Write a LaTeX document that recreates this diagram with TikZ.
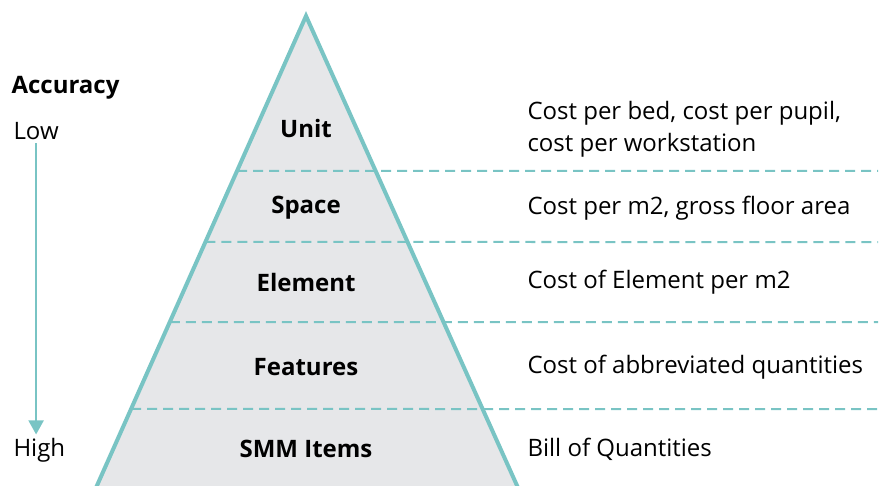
\documentclass[tikz,border=0pt]{standalone}
\usepackage{fontspec}
\setmainfont{Open Sans}
\usetikzlibrary{calc, arrows.meta}
\definecolor{teal}{HTML}{79C4C4}
\definecolor{pyrgrey}{HTML}{E6E7E9}
\tikzset{
    level/.style={font=\fontsize{24}{32}\selectfont\bfseries},
    cost/.style={anchor=west, font=\fontsize{24}{32}\selectfont, align=left},
    divider/.style={teal, line width=2pt, dash pattern=on 10pt off 6pt},
}
\begin{document}
\begin{tikzpicture}[x=1pt, y=-1pt]
        \useasboundingbox (0, 0) rectangle (882, 486);

        \coordinate (T) at (306, 16);
        \coordinate (L) at (95, 490);
        \coordinate (R) at (519, 490);

        \fill[pyrgrey] (T) -- (L) -- (R) -- cycle;

        % dashed dividers, from the left edge out to the right margin
        \foreach \y/\name in {171/a, 242/b, 322/c, 409/d} {
            \coordinate (\name) at ($(T)!{(\y-16)/474}!(L)$);
            \coordinate (\name e) at (878, \y);
            \draw[divider] (\name) -- (\name e);
        }

        \draw[teal, line width=4pt, line join=miter] (L) -- (T) -- (R);

        \node[level] (unit) at (306, 129) {Unit};
        \node[level] (space) at (306, 208) {Space};
        \node[level] (element) at (306, 282) {Element};
        \node[level] (features) at (306, 367) {Features};
        \node[level] (smm) at (306, 449) {SMM Items};

        \node[cost] (c1) at (524, 129) {Cost per bed, cost per pupil,\\cost per workstation};
        \node[cost] (c2) at (524, 208) {Cost per m2, gross floor area};
        \node[cost] (c3) at (524, 282) {Cost of Element per m2};
        \node[cost] (c4) at (524, 367) {Cost of abbreviated quantities};
        \node[cost] (c5) at (524, 449) {Bill of Quantities};

        \node[level, anchor=west] (acc) at (8, 88) {Accuracy};
        \node[cost] (low) at (10, 131) {Low};
        \node[cost] (high) at (10, 450) {High};

        \draw[teal, line width=2pt, -{Triangle[width=15pt, length=14pt]}]
            (low.south) -- (low.south |- high.north);

    \end{tikzpicture}
\end{document}
